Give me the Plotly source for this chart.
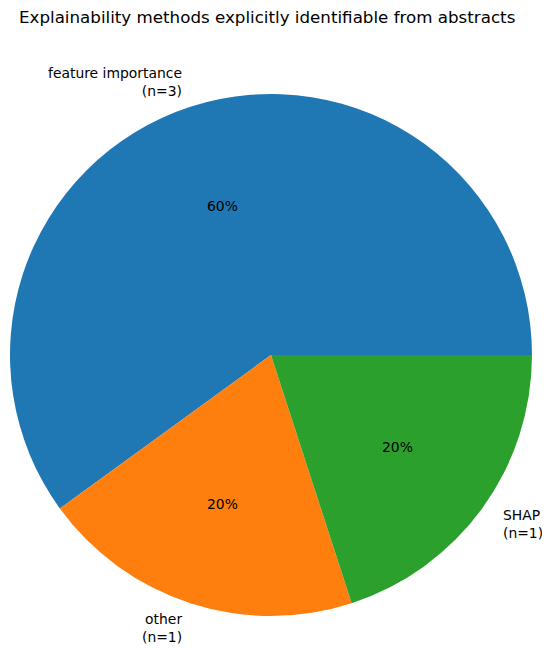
import math
import plotly.graph_objects as go

# Data
categories = ["feature importance", "other", "SHAP"]
counts = [3, 1, 1]
colors = ["#1f77b4", "#ff7f0e", "#2ca02c"]
title = "Explainability methods explicitly identifiable from abstracts"

OFF = 8  # page body margin
W, H = 550 - 2 * OFF, 653 - 2 * OFF
cx_px, cy_px, r_px = 271 - OFF, 355 - OFF, 261
PAD = 2  # compensate annotation text padding

total = sum(counts)
# plotly (counterclockwise) anchors the first slice's far edge at `rotation`;
# shift so the first slice starts at 3 o'clock like matplotlib's startangle=0
rot = 90 - 360 * counts[0] / total

fig = go.Figure(go.Pie(
    labels=categories,
    values=counts,
    sort=False,
    direction="counterclockwise",
    rotation=rot,
    marker=dict(colors=colors, line=dict(width=0)),
    textinfo="none",
    hoverinfo="skip",
    domain=dict(x=[(cx_px - r_px) / W, (cx_px + r_px) / W],
                y=[1 - (cy_px + r_px) / H, 1 - (cy_px - r_px) / H]),
))

font = dict(family="DejaVu Sans", size=13.9, color="black")
annotations = []
cum = 0
for lab, v in zip(categories, counts):
    mid = 2 * math.pi * (cum + v / 2) / total
    cum += v
    c, s = math.cos(mid), math.sin(mid)
    annotations.append(dict(
        x=(cx_px + 0.6 * r_px * c) / W, y=1 - (cy_px - 0.6 * r_px * s) / H,
        xref="paper", yref="paper", text=f"{100 * v / total:.0f}%",
        showarrow=False, xanchor="center", yanchor="middle", font=font))
    left = c < 0
    annotations.append(dict(
        x=(cx_px + 1.1 * r_px * c + (PAD if left else -PAD)) / W,
        y=1 - (cy_px - 1.1 * r_px * s) / H,
        xref="paper", yref="paper", text=f"{lab}<br>(n={v})",
        showarrow=False, xanchor="right" if left else "left",
        align="right" if left else "left", yanchor="middle", font=font))

annotations.append(dict(
    x=(267 - OFF) / W, y=1 - (17 - OFF) / H, xref="paper", yref="paper", text=title,
    showarrow=False, xanchor="center", yanchor="middle",
    font=dict(family="DejaVu Sans", size=16.7, color="black")))

fig.update_layout(
    width=W, height=H,
    margin=dict(l=0, r=0, t=0, b=0),
    paper_bgcolor="white", plot_bgcolor="white",
    showlegend=False,
    annotations=annotations,
)

fig.write_html("out.html")
